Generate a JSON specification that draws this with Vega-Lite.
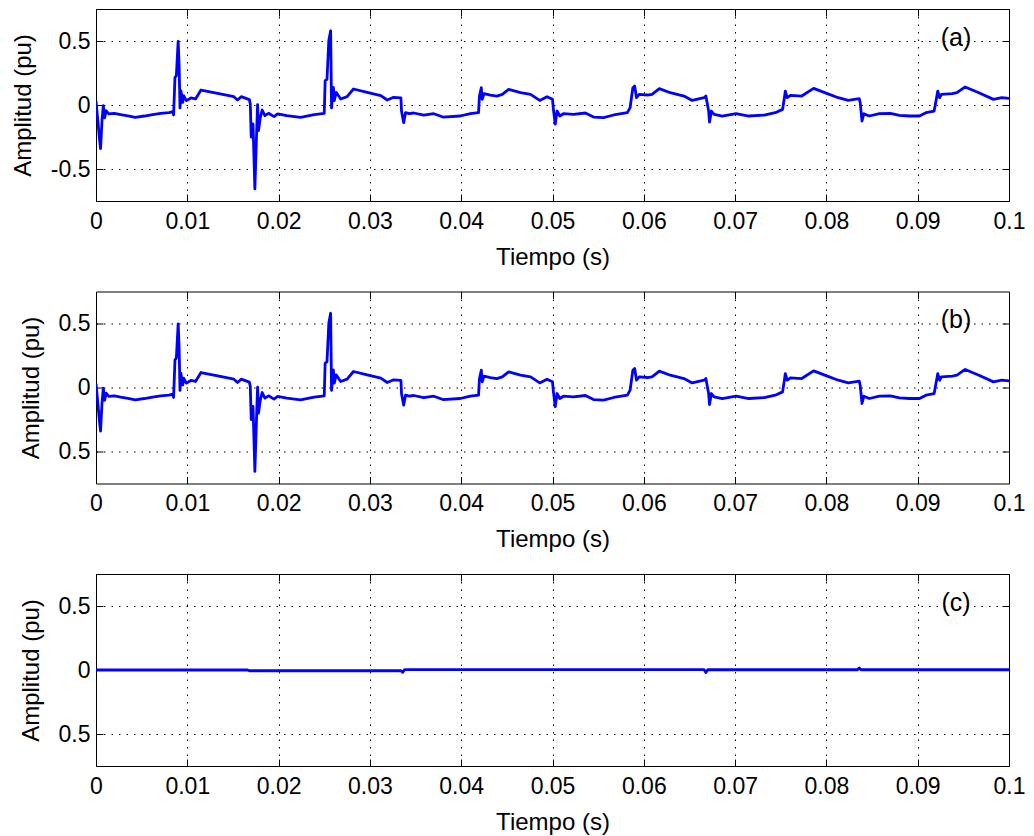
{
  "$schema": "https://vega.github.io/schema/vega-lite/v6.json",
  "padding": {"top": 8, "left": 10, "right": 4, "bottom": 2},
  "spacing": 20.5,
  "config": {
    "font": "Liberation Sans",
    "view": {"stroke": "#000", "strokeWidth": 1},
    "axis": {
      "labelFont": "Liberation Sans", "labelFontSize": 23, "labelColor": "#000",
      "titleFont": "Liberation Sans", "titleFontSize": 24, "titleFontWeight": "normal", "titleColor": "#000",
      "tickColor": "#000", "tickSize": -7, "tickWidth": 1, "domain": false,
      "gridColor": "#000", "gridDash": [1.5, 6], "gridOpacity": 1, "gridWidth": 1
    }
  },
  "datasets": {
    "wave": [
      {"t": 0.0, "v": 0.03}, {"t": 0.0002, "v": -0.12}, {"t": 0.00036, "v": -0.25}, {"t": 0.0005, "v": -0.34},
      {"t": 0.00066, "v": -0.12}, {"t": 0.0008, "v": -0.005}, {"t": 0.00095, "v": -0.1}, {"t": 0.0011, "v": -0.044},
      {"t": 0.0014, "v": -0.07}, {"t": 0.002, "v": -0.065}, {"t": 0.0027, "v": -0.075}, {"t": 0.0035, "v": -0.085},
      {"t": 0.0043, "v": -0.096}, {"t": 0.0053, "v": -0.086}, {"t": 0.0062, "v": -0.075}, {"t": 0.0071, "v": -0.065},
      {"t": 0.008, "v": -0.06}, {"t": 0.0084, "v": -0.052}, {"t": 0.0085, "v": -0.078}, {"t": 0.00865, "v": 0.216},
      {"t": 0.0088, "v": 0.23}, {"t": 0.009, "v": 0.497}, {"t": 0.0091, "v": 0.32}, {"t": 0.0092, "v": -0.023},
      {"t": 0.0093, "v": 0.112}, {"t": 0.0095, "v": 0.02}, {"t": 0.0096, "v": 0.073}, {"t": 0.0099, "v": 0.034},
      {"t": 0.0104, "v": 0.055}, {"t": 0.0109, "v": 0.047}, {"t": 0.0115, "v": 0.117}, {"t": 0.0122, "v": 0.107},
      {"t": 0.0136, "v": 0.086}, {"t": 0.0151, "v": 0.065}, {"t": 0.0155, "v": 0.039}, {"t": 0.0159, "v": 0.065},
      {"t": 0.0168, "v": 0.042}, {"t": 0.0169, "v": 0.008}, {"t": 0.017, "v": -0.25}, {"t": 0.0172, "v": -0.148},
      {"t": 0.0174, "v": -0.656}, {"t": 0.0176, "v": -0.2}, {"t": 0.0177, "v": 0.003}, {"t": 0.0178, "v": -0.2},
      {"t": 0.018, "v": -0.096}, {"t": 0.0182, "v": -0.039}, {"t": 0.0185, "v": -0.083}, {"t": 0.0189, "v": -0.065},
      {"t": 0.0195, "v": -0.091}, {"t": 0.0199, "v": -0.07}, {"t": 0.0209, "v": -0.083}, {"t": 0.0224, "v": -0.096},
      {"t": 0.0239, "v": -0.076}, {"t": 0.025, "v": -0.065}, {"t": 0.0251, "v": 0.19}, {"t": 0.0253, "v": 0.2},
      {"t": 0.0255, "v": 0.503}, {"t": 0.0257, "v": 0.58}, {"t": 0.0258, "v": -0.023}, {"t": 0.026, "v": 0.138},
      {"t": 0.0261, "v": 0.034}, {"t": 0.0263, "v": 0.099}, {"t": 0.0268, "v": 0.047}, {"t": 0.0275, "v": 0.065},
      {"t": 0.0282, "v": 0.125}, {"t": 0.0297, "v": 0.099}, {"t": 0.0312, "v": 0.073}, {"t": 0.0319, "v": 0.039},
      {"t": 0.0326, "v": 0.06}, {"t": 0.0334, "v": 0.055}, {"t": 0.03346, "v": -0.047}, {"t": 0.0337, "v": -0.138},
      {"t": 0.0339, "v": -0.06}, {"t": 0.0343, "v": -0.068}, {"t": 0.0348, "v": -0.0625}, {"t": 0.0359, "v": -0.08},
      {"t": 0.037, "v": -0.068}, {"t": 0.038, "v": -0.094}, {"t": 0.0399, "v": -0.086}, {"t": 0.041, "v": -0.068},
      {"t": 0.0419, "v": -0.06}, {"t": 0.042, "v": 0.07}, {"t": 0.0422, "v": 0.135}, {"t": 0.0423, "v": 0.044},
      {"t": 0.0425, "v": 0.089}, {"t": 0.0432, "v": 0.078}, {"t": 0.0439, "v": 0.07}, {"t": 0.0445, "v": 0.083},
      {"t": 0.0452, "v": 0.122}, {"t": 0.0465, "v": 0.096}, {"t": 0.0476, "v": 0.083}, {"t": 0.0486, "v": 0.036},
      {"t": 0.0494, "v": 0.065}, {"t": 0.05, "v": 0.044}, {"t": 0.0501, "v": -0.034}, {"t": 0.0503, "v": -0.15},
      {"t": 0.0505, "v": -0.047}, {"t": 0.0508, "v": -0.086}, {"t": 0.0512, "v": -0.068}, {"t": 0.0523, "v": -0.073},
      {"t": 0.0536, "v": -0.0625}, {"t": 0.0545, "v": -0.094}, {"t": 0.0556, "v": -0.099}, {"t": 0.0567, "v": -0.078},
      {"t": 0.0582, "v": -0.06}, {"t": 0.0585, "v": -0.021}, {"t": 0.0588, "v": 0.135}, {"t": 0.059, "v": 0.148},
      {"t": 0.0592, "v": 0.057}, {"t": 0.0595, "v": 0.083}, {"t": 0.0604, "v": 0.078}, {"t": 0.0609, "v": 0.083},
      {"t": 0.0617, "v": 0.128}, {"t": 0.0629, "v": 0.096}, {"t": 0.0644, "v": 0.07}, {"t": 0.0653, "v": 0.036},
      {"t": 0.0666, "v": 0.057}, {"t": 0.0668, "v": 0.07}, {"t": 0.0671, "v": -0.047}, {"t": 0.0672, "v": -0.133},
      {"t": 0.0674, "v": -0.047}, {"t": 0.0677, "v": -0.073}, {"t": 0.0686, "v": -0.086}, {"t": 0.0701, "v": -0.068},
      {"t": 0.0715, "v": -0.086}, {"t": 0.0733, "v": -0.078}, {"t": 0.0744, "v": -0.06}, {"t": 0.0752, "v": -0.034},
      {"t": 0.0754, "v": 0.057}, {"t": 0.0755, "v": 0.109}, {"t": 0.0757, "v": 0.057}, {"t": 0.0761, "v": 0.076},
      {"t": 0.0773, "v": 0.07}, {"t": 0.0786, "v": 0.13}, {"t": 0.0801, "v": 0.089}, {"t": 0.0813, "v": 0.057},
      {"t": 0.0824, "v": 0.036}, {"t": 0.0836, "v": 0.049}, {"t": 0.0837, "v": 0.018}, {"t": 0.0839, "v": -0.125},
      {"t": 0.0841, "v": -0.068}, {"t": 0.0847, "v": -0.086}, {"t": 0.0858, "v": -0.068}, {"t": 0.087, "v": -0.065},
      {"t": 0.088, "v": -0.081}, {"t": 0.0891, "v": -0.086}, {"t": 0.0902, "v": -0.086}, {"t": 0.0909, "v": -0.06},
      {"t": 0.0918, "v": -0.047}, {"t": 0.092, "v": 0.031}, {"t": 0.0922, "v": 0.109}, {"t": 0.0924, "v": 0.057},
      {"t": 0.0926, "v": 0.083}, {"t": 0.0938, "v": 0.089}, {"t": 0.0943, "v": 0.096}, {"t": 0.0952, "v": 0.141},
      {"t": 0.0967, "v": 0.096}, {"t": 0.0983, "v": 0.044}, {"t": 0.0992, "v": 0.057}, {"t": 0.1, "v": 0.052}
    ],
    "err": [
      {"t": 0.0, "v": 0.0}, {"t": 0.0166, "v": 0.0}, {"t": 0.0168, "v": -0.006}, {"t": 0.0334, "v": -0.006},
      {"t": 0.0336, "v": -0.018}, {"t": 0.0338, "v": 0.003}, {"t": 0.0666, "v": 0.003}, {"t": 0.0668, "v": -0.02},
      {"t": 0.067, "v": 0.002}, {"t": 0.0834, "v": 0.002}, {"t": 0.0836, "v": 0.016}, {"t": 0.0838, "v": 0.002},
      {"t": 0.1, "v": 0.002}
    ]
  },
  "vconcat": [
    {
      "width": 913, "height": 192,
      "layer": [
        {
          "data": {"name": "wave"},
          "mark": {"type": "line", "color": "#0000ff", "strokeWidth": 2.8, "strokeJoin": "round", "clip": true},
          "encoding": {
            "x": {"field": "t", "type": "quantitative", "scale": {"domain": [0, 0.1], "nice": false},
              "axis": {"orient": "bottom", "values": [0, 0.01, 0.02, 0.03, 0.04, 0.05, 0.06, 0.07, 0.08, 0.09, 0.1], "grid": true, "labelFlush": false, "labelPadding": 16, "titlePadding": 12, "title": "Tiempo (s)", "labelExpr": "datum.value == 0 ? '0' : format(datum.value, '.2~f')"}},
            "y": {"field": "v", "type": "quantitative", "scale": {"domain": [-0.75, 0.75], "nice": false},
              "axis": {"orient": "left", "values": [-0.5, 0, 0.5], "grid": true, "labelPadding": 13, "titlePadding": 15, "title": "Amplitud (pu)", "labelExpr": "datum.value < 0 ? '-' + format(-datum.value, '~g') : format(datum.value, '~g')"}}
          }
        },
        {
          "data": {"values": [{"t": 0.0942, "v": 0.52, "label": "(a)"}]},
          "mark": {"type": "text", "fontSize": 25, "font": "Liberation Sans", "color": "#000", "align": "center", "baseline": "middle"},
          "encoding": {
            "x": {"field": "t", "type": "quantitative", "axis": {"orient": "top", "values": [0, 0.01, 0.02, 0.03, 0.04, 0.05, 0.06, 0.07, 0.08, 0.09, 0.1], "grid": false, "labels": false, "title": null}},
            "y": {"field": "v", "type": "quantitative", "axis": {"orient": "right", "values": [-0.5, 0, 0.5], "grid": false, "labels": false, "title": null}},
            "text": {"field": "label"}
          }
        }
      ],
      "resolve": {"axis": {"x": "independent", "y": "independent"}}
    },
    {
      "width": 913, "height": 192,
      "layer": [
        {
          "data": {"name": "wave"},
          "mark": {"type": "line", "color": "#0000ff", "strokeWidth": 2.8, "strokeJoin": "round", "clip": true},
          "encoding": {
            "x": {"field": "t", "type": "quantitative", "scale": {"domain": [0, 0.1], "nice": false},
              "axis": {"orient": "bottom", "values": [0, 0.01, 0.02, 0.03, 0.04, 0.05, 0.06, 0.07, 0.08, 0.09, 0.1], "grid": true, "labelFlush": false, "labelPadding": 16, "titlePadding": 12, "title": "Tiempo (s)", "labelExpr": "datum.value == 0 ? '0' : format(datum.value, '.2~f')"}},
            "y": {"field": "v", "type": "quantitative", "scale": {"domain": [-0.75, 0.75], "nice": false},
              "axis": {"orient": "left", "values": [-0.5, 0, 0.5], "grid": true, "labelPadding": 13, "titlePadding": 15, "title": "Amplitud (pu)", "labelExpr": "format(abs(datum.value), '~g')"}}
          }
        },
        {
          "data": {"values": [{"t": 0.0942, "v": 0.53, "label": "(b)"}]},
          "mark": {"type": "text", "fontSize": 25, "font": "Liberation Sans", "color": "#000", "align": "center", "baseline": "middle"},
          "encoding": {
            "x": {"field": "t", "type": "quantitative", "axis": {"orient": "top", "values": [0, 0.01, 0.02, 0.03, 0.04, 0.05, 0.06, 0.07, 0.08, 0.09, 0.1], "grid": false, "labels": false, "title": null}},
            "y": {"field": "v", "type": "quantitative", "axis": {"orient": "right", "values": [-0.5, 0, 0.5], "grid": false, "labels": false, "title": null}},
            "text": {"field": "label"}
          }
        }
      ],
      "resolve": {"axis": {"x": "independent", "y": "independent"}}
    },
    {
      "width": 913, "height": 192,
      "layer": [
        {
          "data": {"name": "err"},
          "mark": {"type": "line", "color": "#0000ff", "strokeWidth": 2.8, "strokeJoin": "round", "clip": true},
          "encoding": {
            "x": {"field": "t", "type": "quantitative", "scale": {"domain": [0, 0.1], "nice": false},
              "axis": {"orient": "bottom", "values": [0, 0.01, 0.02, 0.03, 0.04, 0.05, 0.06, 0.07, 0.08, 0.09, 0.1], "grid": true, "labelFlush": false, "labelPadding": 16, "titlePadding": 12, "title": "Tiempo (s)", "labelExpr": "datum.value == 0 ? '0' : format(datum.value, '.2~f')"}},
            "y": {"field": "v", "type": "quantitative", "scale": {"domain": [-0.75, 0.75], "nice": false},
              "axis": {"orient": "left", "values": [-0.5, 0, 0.5], "grid": true, "labelPadding": 13, "titlePadding": 15, "title": "Amplitud (pu)", "labelExpr": "format(abs(datum.value), '~g')"}}
          }
        },
        {
          "data": {"values": [{"t": 0.0942, "v": 0.52, "label": "(c)"}]},
          "mark": {"type": "text", "fontSize": 25, "font": "Liberation Sans", "color": "#000", "align": "center", "baseline": "middle"},
          "encoding": {
            "x": {"field": "t", "type": "quantitative", "axis": {"orient": "top", "values": [0, 0.01, 0.02, 0.03, 0.04, 0.05, 0.06, 0.07, 0.08, 0.09, 0.1], "grid": false, "labels": false, "title": null}},
            "y": {"field": "v", "type": "quantitative", "axis": {"orient": "right", "values": [-0.5, 0, 0.5], "grid": false, "labels": false, "title": null}},
            "text": {"field": "label"}
          }
        }
      ],
      "resolve": {"axis": {"x": "independent", "y": "independent"}}
    }
  ]
}
